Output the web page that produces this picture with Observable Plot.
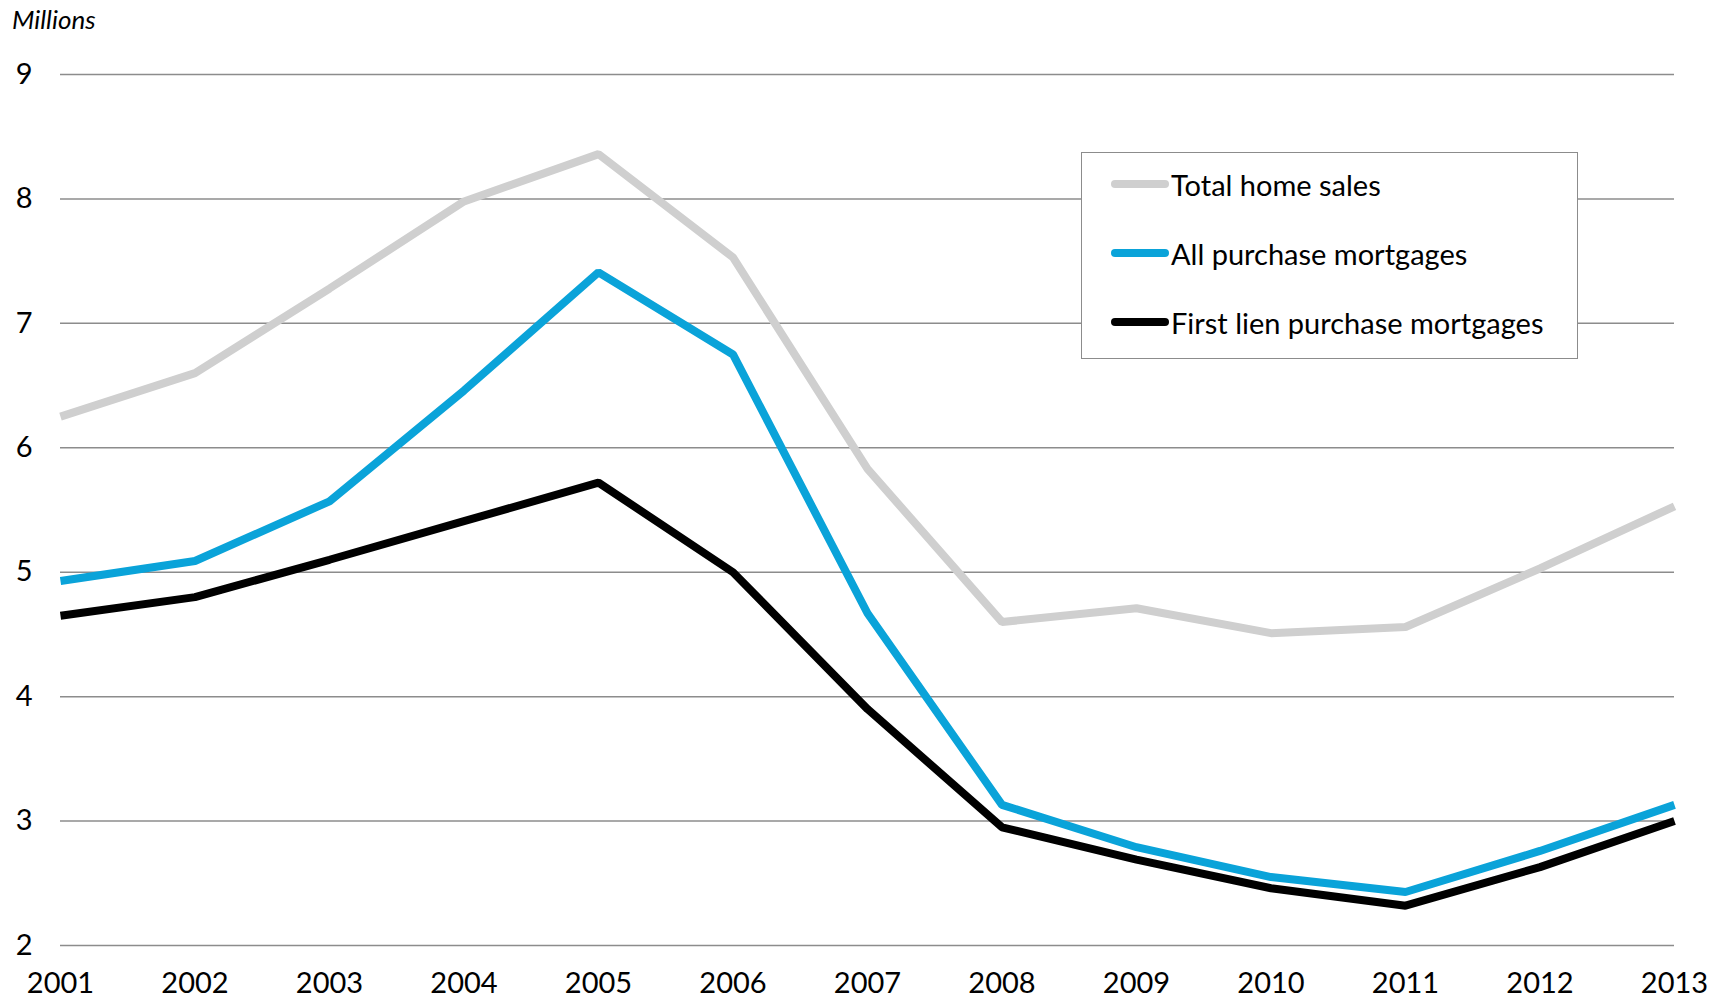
<!DOCTYPE html>
<html>
<head>
<meta charset="utf-8">
<script src="https://cdn.jsdelivr.net/npm/d3@7"></script>
<script src="https://cdn.jsdelivr.net/npm/@observablehq/plot@0.6"></script>
<style>
  html, body { margin: 0; padding: 0; background: #fff; }
  body { width: 1725px; height: 999px; position: relative; overflow: hidden; font-family: Lato, "Open Sans", sans-serif; }
  #unit { height: 40px; position: relative; }
  #unit span { position: absolute; left: 12px; top: 3px; font-style: italic; font-size: 26px; color: #000; }
  #legend { position: absolute; left: 1081px; top: 152px; width: 495px; height: 205px; border: 1.5px solid #8c8c8c; background: #fff; }
  .item { position: absolute; left: 29px; height: 40px; display: flex; align-items: center; font-size: 29px; color: #000; }
  .sw { width: 58px; height: 8px; border-radius: 4px; margin-right: 2px; }
</style>
</head>
<body>
<div id="unit"><span>Millions</span></div>
<div id="chart"></div>
<div id="legend"></div>
<script>
const years = [2001, 2002, 2003, 2004, 2005, 2006, 2007, 2008, 2009, 2010, 2011, 2012, 2013];
const totalHomeSales = [6.25, 6.60, 7.28, 7.98, 8.36, 7.53, 5.83, 4.60, 4.71, 4.51, 4.56, 5.03, 5.53];
const allPurchaseMortgages = [4.93, 5.09, 5.57, 6.46, 7.41, 6.75, 4.67, 3.13, 2.79, 2.55, 2.43, 2.76, 3.13];
const firstLienPurchaseMortgages = [4.65, 4.80, 5.10, 5.41, 5.72, 5.00, 3.90, 2.95, 2.69, 2.46, 2.32, 2.63, 3.00];
const yTicks = [2, 3, 4, 5, 6, 7, 8, 9];
const seriesNames = ["Total home sales", "All purchase mortgages", "First lien purchase mortgages"];
const seriesColors = ["#cfcfcf", "#0aa3d9", "#000000"];

const seriesValues = [totalHomeSales, allPurchaseMortgages, firstLienPurchaseMortgages];
const data = [];
seriesNames.forEach((name, i) => {
  years.forEach((yr, j) => data.push({series: name, year: yr, value: seriesValues[i][j]}));
});

const plot = Plot.plot({
  width: 1725,
  height: 959,
  marginTop: 34,
  marginBottom: 54,
  marginLeft: 60,
  marginRight: 51,
  style: {fontFamily: "Lato, 'Open Sans', sans-serif", fontSize: "29px", color: "#000", background: "#fff"},
  x: {domain: [2001, 2013], label: null},
  y: {domain: [2, 9], label: null},
  color: {domain: seriesNames, range: seriesColors},
  marks: [
    Plot.ruleY(yTicks, {stroke: "#8c8c8c", strokeWidth: 1.5}),
    Plot.line(data, {x: "year", y: "value", z: "series", stroke: "series", strokeWidth: 8, strokeLinecap: "butt", strokeLinejoin: "miter"}),
    Plot.axisX({ticks: years, tickFormat: d => String(d), tickSize: 0, tickPadding: 27, fontSize: 29, label: null}),
    Plot.axisY({ticks: yTicks, tickFormat: d => String(d), tickSize: 0, tickPadding: 28, fontSize: 29, label: null})
  ]
});
document.getElementById("chart").appendChild(plot);

const legend = document.getElementById("legend");
const rowCenters = [31, 100, 169];
seriesNames.forEach((name, i) => {
  const item = document.createElement("div");
  item.className = "item";
  item.style.top = (rowCenters[i] - 20) + "px";
  const sw = document.createElement("div");
  sw.className = "sw";
  sw.style.background = seriesColors[i];
  const t = document.createElement("span");
  t.textContent = name;
  item.appendChild(sw);
  item.appendChild(t);
  legend.appendChild(item);
});
</script>
</body>
</html>
